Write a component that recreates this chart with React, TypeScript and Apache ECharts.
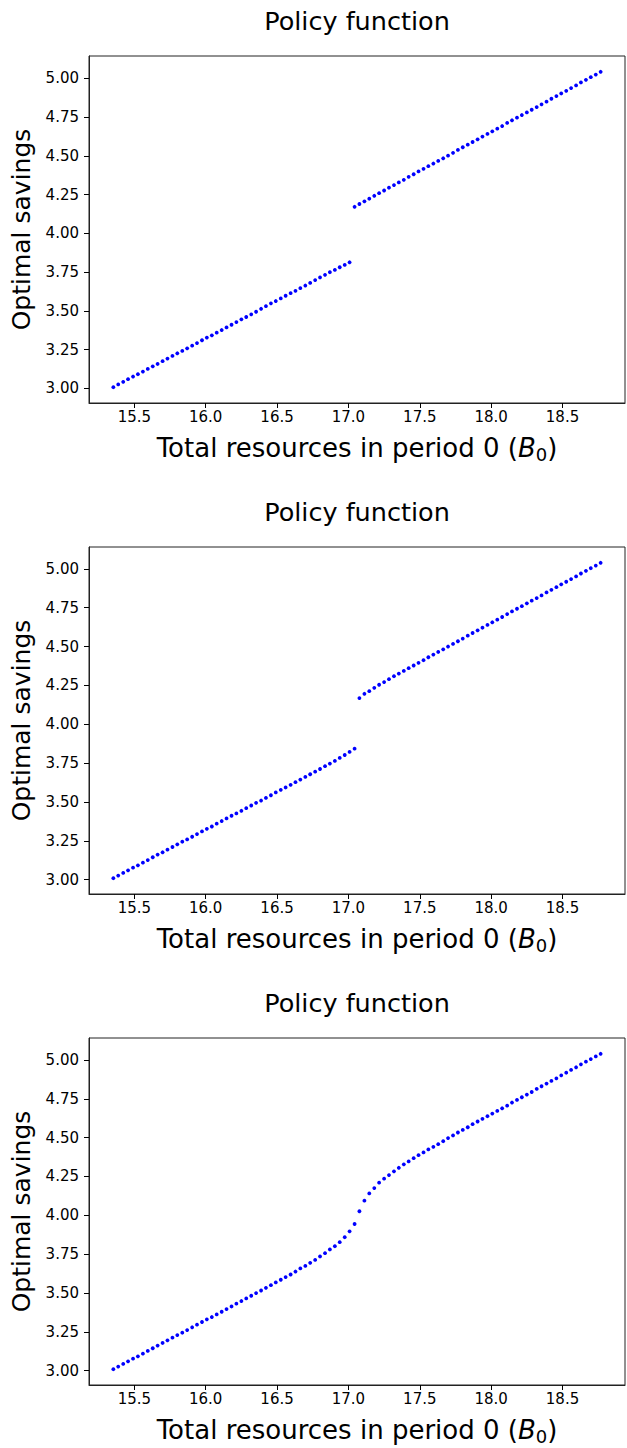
import React, { useEffect, useRef } from "react";
import * as echarts from "echarts";

// Grid of total resources in period 0 (shared by all three panels)
const resources = [
  15.353, 15.387, 15.422, 15.456, 15.491, 15.525, 15.56, 15.594, 15.629, 15.663,
  15.698, 15.732, 15.767, 15.801, 15.836, 15.87, 15.905, 15.939, 15.974, 16.008,
  16.043, 16.077, 16.112, 16.146, 16.181, 16.215, 16.25, 16.284, 16.319, 16.353,
  16.388, 16.422, 16.457, 16.491, 16.526, 16.56, 16.595, 16.629, 16.663, 16.698,
  16.732, 16.767, 16.801, 16.836, 16.87, 16.905, 16.939, 16.974, 17.008, 17.043,
  17.077, 17.112, 17.146, 17.181, 17.215, 17.25, 17.284, 17.319, 17.353, 17.388,
  17.422, 17.457, 17.491, 17.526, 17.56, 17.595, 17.629, 17.664, 17.698, 17.733,
  17.767, 17.801, 17.836, 17.87, 17.905, 17.939, 17.974, 18.008, 18.043, 18.077,
  18.112, 18.146, 18.181, 18.215, 18.25, 18.284, 18.319, 18.353, 18.388, 18.422,
  18.457, 18.491, 18.526, 18.56, 18.595, 18.629, 18.664, 18.698, 18.733, 18.767,
];

// Optimal savings, first panel
const savingsA = [
  3.008, 3.026, 3.043, 3.06, 3.077, 3.092, 3.109, 3.126, 3.143, 3.158,
  3.176, 3.193, 3.21, 3.227, 3.242, 3.259, 3.276, 3.293, 3.311, 3.328,
  3.343, 3.36, 3.377, 3.394, 3.411, 3.428, 3.446, 3.461, 3.478, 3.495,
  3.514, 3.531, 3.549, 3.564, 3.581, 3.598, 3.615, 3.63, 3.647, 3.664,
  3.681, 3.699, 3.716, 3.733, 3.75, 3.765, 3.782, 3.797, 3.814, 4.172,
  4.19, 4.207, 4.224, 4.243, 4.26, 4.277, 4.295, 4.312, 4.329, 4.346,
  4.365, 4.382, 4.4, 4.417, 4.434, 4.451, 4.468, 4.485, 4.502, 4.52,
  4.539, 4.556, 4.573, 4.59, 4.607, 4.625, 4.642, 4.659, 4.676, 4.693,
  4.713, 4.73, 4.747, 4.764, 4.781, 4.798, 4.815, 4.833, 4.85, 4.869,
  4.886, 4.903, 4.92, 4.938, 4.955, 4.974, 4.991, 5.008, 5.025, 5.043,
];

// Optimal savings, second panel
const savingsB = [
  3.009, 3.026, 3.043, 3.06, 3.077, 3.092, 3.109, 3.126, 3.144, 3.161,
  3.176, 3.193, 3.21, 3.227, 3.244, 3.259, 3.276, 3.293, 3.31, 3.327,
  3.342, 3.36, 3.377, 3.394, 3.411, 3.426, 3.443, 3.46, 3.477, 3.494,
  3.509, 3.526, 3.543, 3.561, 3.578, 3.593, 3.61, 3.627, 3.644, 3.661,
  3.678, 3.695, 3.712, 3.73, 3.747, 3.764, 3.783, 3.802, 3.822, 3.843,
  4.168, 4.196, 4.213, 4.234, 4.254, 4.271, 4.29, 4.309, 4.326, 4.343,
  4.361, 4.378, 4.395, 4.412, 4.431, 4.448, 4.465, 4.482, 4.5, 4.517,
  4.534, 4.551, 4.57, 4.587, 4.604, 4.621, 4.639, 4.656, 4.673, 4.69,
  4.709, 4.726, 4.743, 4.76, 4.778, 4.795, 4.812, 4.829, 4.848, 4.865,
  4.882, 4.9, 4.917, 4.934, 4.951, 4.97, 4.987, 5.004, 5.021, 5.039,
];

// Optimal savings, third panel
const savingsC = [
  3.009, 3.026, 3.043, 3.06, 3.077, 3.092, 3.109, 3.127, 3.144, 3.161,
  3.178, 3.195, 3.212, 3.229, 3.244, 3.261, 3.279, 3.296, 3.313, 3.33,
  3.345, 3.362, 3.379, 3.396, 3.413, 3.431, 3.448, 3.465, 3.482, 3.499,
  3.516, 3.533, 3.55, 3.568, 3.585, 3.602, 3.619, 3.638, 3.658, 3.674,
  3.694, 3.713, 3.735, 3.756, 3.78, 3.801, 3.827, 3.859, 3.897, 3.944,
  4.026, 4.094, 4.141, 4.175, 4.21, 4.236, 4.259, 4.283, 4.306, 4.328,
  4.347, 4.368, 4.387, 4.405, 4.424, 4.441, 4.458, 4.477, 4.497, 4.514,
  4.533, 4.55, 4.567, 4.587, 4.604, 4.621, 4.638, 4.655, 4.672, 4.689,
  4.706, 4.726, 4.743, 4.76, 4.777, 4.794, 4.814, 4.831, 4.848, 4.865,
  4.882, 4.901, 4.918, 4.936, 4.953, 4.972, 4.989, 5.006, 5.023, 5.04,
];

const xTicks = [15.5, 16.0, 16.5, 17.0, 17.5, 18.0, 18.5];
const yTicks = [3.0, 3.25, 3.5, 3.75, 4.0, 4.25, 4.5, 4.75, 5.0];

const panelTitle = "Policy function";
const yTitle = "Optimal savings";

const panels = [savingsA, savingsB, savingsC];

const FONT = '"DejaVu Sans", sans-serif';
const WIDTH = 627;
const HEIGHT = 1448;
const GRID_LEFT = 89;
const GRID_WIDTH = 536;
const GRID_HEIGHT = 347;
const GRID_TOPS = [56, 547, 1038];
const INK = "#000000";
const DOT = "#0000ff";

// autoscale with a 5% margin on each side
function paddedRange(values: number[]): [number, number] {
  const lo = Math.min(...values);
  const hi = Math.max(...values);
  const m = (hi - lo) * 0.05;
  return [lo - m, hi + m];
}

function buildOption() {
  const [xMin, xMax] = paddedRange(resources);
  const centerX = GRID_LEFT + GRID_WIDTH / 2;

  const grid: any[] = [];
  const xAxis: any[] = [];
  const yAxis: any[] = [];
  const series: any[] = [];
  const graphic: any[] = [];

  panels.forEach((values, i) => {
    const top = GRID_TOPS[i];
    const [yMin, yMax] = paddedRange(values);

    grid.push({
      left: GRID_LEFT,
      top,
      width: GRID_WIDTH,
      height: GRID_HEIGHT,
      show: true,
      borderColor: "#222",
      borderWidth: 1,
      backgroundColor: "#ffffff",
    });

    xAxis.push({
      type: "value",
      gridIndex: i,
      min: xMin,
      max: xMax,
      axisLine: { show: true, onZero: false, lineStyle: { color: "#222", width: 1 } },
      axisTick: {
        show: true,
        customValues: xTicks,
        length: 5,
        lineStyle: { color: INK, width: 1 },
      },
      axisLabel: {
        customValues: xTicks,
        formatter: (v: number) => v.toFixed(1),
        fontFamily: FONT,
        fontSize: 15,
        color: INK,
        margin: 6,
      },
      splitLine: { show: false },
    });

    yAxis.push({
      type: "value",
      gridIndex: i,
      min: yMin,
      max: yMax,
      axisLine: { show: true, onZero: false, lineStyle: { color: "#222", width: 1 } },
      axisTick: {
        show: true,
        customValues: yTicks,
        length: 5,
        lineStyle: { color: INK, width: 1 },
      },
      axisLabel: {
        customValues: yTicks,
        formatter: (v: number) => v.toFixed(2),
        fontFamily: FONT,
        fontSize: 15,
        color: INK,
        margin: 10,
      },
      splitLine: { show: false },
    });

    series.push({
      type: "scatter",
      xAxisIndex: i,
      yAxisIndex: i,
      symbol: "circle",
      symbolSize: 3.8,
      itemStyle: { color: DOT, opacity: 1 },
      silent: true,
      data: resources.map((x, j) => [x, values[j]]),
    });

    // panel title
    graphic.push({
      type: "text",
      x: centerX,
      y: top - 35,
      style: {
        text: panelTitle,
        fontFamily: FONT,
        fontSize: 25.5,
        fill: INK,
        align: "center",
        verticalAlign: "middle",
      },
    });

    // x-axis title with italic B and subscript 0
    graphic.push({
      type: "text",
      x: centerX,
      y: top + GRID_HEIGHT + 45,
      style: {
        text: "{n|Total resources in period 0 (}{b|B}{s|0}{n|)}",
        fill: INK,
        align: "center",
        verticalAlign: "middle",
        rich: {
          n: { fontFamily: FONT, fontSize: 26, lineHeight: 30, fill: INK },
          b: { fontFamily: FONT, fontSize: 26, fontStyle: "italic", lineHeight: 30, fill: INK },
          s: { fontFamily: FONT, fontSize: 18, lineHeight: 14, verticalAlign: "bottom", fill: INK },
        },
      },
    });

    // y-axis title, rotated
    graphic.push({
      type: "text",
      x: 21.5,
      y: top + GRID_HEIGHT / 2,
      rotation: Math.PI / 2,
      style: {
        text: yTitle,
        fontFamily: FONT,
        fontSize: 25,
        fill: INK,
        align: "center",
        verticalAlign: "middle",
      },
    });
  });

  return {
    animation: false,
    backgroundColor: "#ffffff",
    grid,
    xAxis,
    yAxis,
    series,
    graphic,
  };
}

export default function App() {
  const ref = useRef<HTMLDivElement | null>(null);

  useEffect(() => {
    if (!ref.current) return;
    const chart = echarts.init(ref.current, undefined, { renderer: "svg" });
    chart.setOption(buildOption());
    return () => {
      chart.dispose();
    };
  }, []);

  return (
    <div
      ref={ref}
      style={{ position: "absolute", left: 0, top: 0, width: WIDTH, height: HEIGHT }}
    />
  );
}
